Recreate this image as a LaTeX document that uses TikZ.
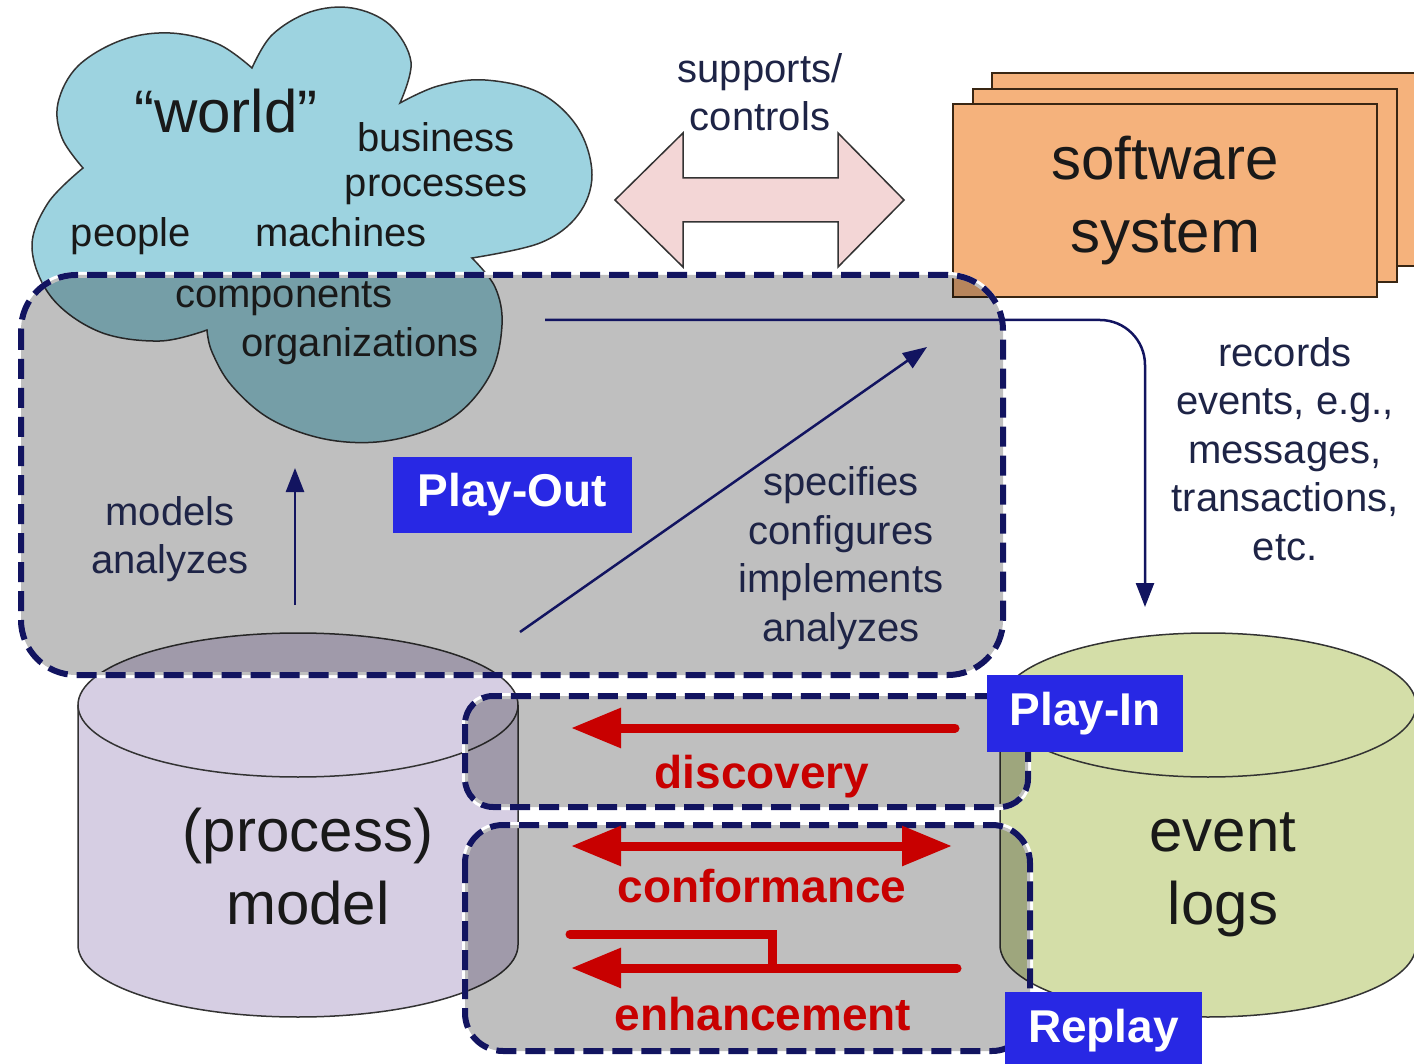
\documentclass[tikz,border=0pt]{standalone}
\usepackage{fontspec}
\setmainfont{Liberation Sans}
\usetikzlibrary{arrows.meta}
\definecolor{cloudblue}{RGB}{157,211,224}
\definecolor{modellilac}{RGB}{214,206,227}
\definecolor{loggreen}{RGB}{212,222,168}
\definecolor{softorange}{RGB}{245,178,124}
\definecolor{arrowpink}{RGB}{243,214,214}
\definecolor{boxnavy}{RGB}{18,20,96}
\definecolor{tagblue}{RGB}{40,40,228}
\definecolor{minered}{RGB}{200,0,0}
\definecolor{labelnavy}{RGB}{30,36,70}

\begin{document}
\begin{tikzpicture}[x=1pt,y=-1pt,
  outline/.style={draw=black!80, line width=1.5pt},
  playbox/.style={draw=boxnavy, line width=6pt, dash pattern=on 20pt off 9pt,
    fill=black, fill opacity=0.25, preaction={draw=white, solid, line width=6pt}},
  tag/.style={fill=tagblue, text=white, font=\fontsize{46}{50}\selectfont\bfseries, inner sep=0pt},
  cloudtext/.style={text=black!90, font=\fontsize{40}{48}\selectfont, anchor=base},
  note/.style={text=labelnavy, font=\fontsize{40}{48.5}\selectfont, align=center},
  big/.style={text=black!90, font=\fontsize{60}{73}\selectfont, align=center},
  minetext/.style={text=minered, font=\fontsize{46}{50}\selectfont\bfseries, anchor=base},
  link/.style={draw=boxnavy, line width=2.5pt, -{Triangle[length=24pt,width=18pt]}},
  redarrow/.style={draw=minered, line width=9pt, line cap=round},
  redtip/.style={-{Triangle[length=50pt,width=38pt]}}]

\path[use as bounding box, clip] (0,0) rectangle (1414,1064);
\fill[white] (0,0) rectangle (1414,1064);

% the world cloud
\path[outline, fill=cloudblue]
  plot[smooth, tension=0.6] coordinates {(207,330) (160,341) (100,332) (52,298) (32,248) (48,203) (83,168)}
  -- plot[smooth, tension=0.6] coordinates {(83,168) (62,138) (58,103) (78,66) (122,40) (170,33) (218,44) (252,68)}
  -- plot[smooth, tension=0.6] coordinates {(252,68) (272,35) (310,12) (352,8) (390,25) (411,62) (400,103)}
  -- plot[smooth, tension=0.6] coordinates {(400,103) (438,86) (485,80) (540,93) (578,128) (592,175) (578,215) (540,243) (472,258)}
  -- plot[smooth, tension=0.6] coordinates {(472,258) (495,287) (502,325) (490,375) (452,418) (392,440) (330,440) (272,420) (232,386) (212,352) (207,330)}
  -- cycle;

% cylinders
\path[outline, fill=modellilac] (78,705) -- (78,945)
  arc[start angle=180, end angle=0, x radius=220, y radius=72] -- (518,705);
\path[outline, fill=modellilac] (298,705) ellipse[x radius=220, y radius=72];
\path[outline, fill=loggreen] (1000,705) -- (1000,945)
  arc[start angle=180, end angle=0, x radius=208, y radius=72] -- (1416,705);
\path[outline, fill=loggreen] (1208,705) ellipse[x radius=208, y radius=72];

% software system
\foreach \dx/\dy in {39/-31, 20/-15}
  \path[draw=black!70!brown, line width=2pt, fill=softorange] (953+\dx,104+\dy) rectangle ++(424,193);
\node[draw=black!70!brown, line width=2pt, fill=softorange, minimum width=424, minimum height=193,
  big] (software) at (1165,200.5) {software\\system};

% supports/controls
\path[outline, fill=arrowpink] (615,200) -- (683,133) -- (683,178) -- (838,178) -- (838,133)
  -- (904,200) -- (838,267) -- (838,222) -- (683,222) -- (683,267) -- cycle;
\node[note] (supports) at (760,92) {supports/\\controls};

% play boxes
\path[playbox, rounded corners=55pt] (21,275) rectangle (1003,675);
\path[playbox, rounded corners=28pt] (465,696) rectangle (1028,807);
\path[playbox, rounded corners=38pt] (465,825) rectangle (1030,1051);

% texts
\node[cloudtext, font=\fontsize{60}{70}\selectfont] (world) at (226,133) {“world”};
\node[cloudtext] (business) at (436,152) {business};
\node[cloudtext] (processes) at (436,197) {processes};
\node[cloudtext] (people) at (131,247) {people};
\node[cloudtext] (machines) at (341,247) {machines};
\node[cloudtext] (components) at (284,308) {components};
\node[cloudtext] (organizations) at (360,357) {organizations};

\node[big] (model) at (308,867) {(process)\\model};
\node[big] (logs) at (1223,875) {event\\logs};

\node[note] (models) at (170,539) {models\\analyzes};
\node[note] (specifies) at (841,558) {specifies\\configures\\implements\\analyzes};
\node[note] (records) at (1285,449) {records\\events, e.g.,\\messages,\\transactions,\\etc.};

% navy connectors
\coordinate (model-top) at (295,605);
\coordinate (world-low) at (295,468);
\coordinate (spec-start) at (520,632);
\coordinate (spec-end) at (927,347);
\coordinate (rec-start) at (545,320);
\coordinate (rec-end) at (1145,607);
\draw[link] (model-top) -- (world-low);
\draw[link] (spec-start) -- (spec-end);
\draw[link, rounded corners=45pt] (rec-start) -| (rec-end);

% red mining arrows
\coordinate (disc-r) at (955,728);
\coordinate (disc-l) at (571,728);
\coordinate (conf-l) at (571,846);
\coordinate (conf-r) at (952,846);
\coordinate (enh-a) at (570,934);
\coordinate (enh-b) at (772,968);
\coordinate (enh-r) at (957,968);
\coordinate (enh-l) at (571,968);
\draw[redarrow, redtip] (disc-r) -- (disc-l);
\draw[redarrow, {Triangle[length=50pt,width=38pt]}-{Triangle[length=50pt,width=38pt]}] (conf-l) -- (conf-r);
\draw[redarrow] (enh-a) -| (enh-b);
\draw[redarrow, redtip] (enh-r) -- (enh-l);
\node[minetext] (discovery) at (762,788) {discovery};
\node[minetext] (conformance) at (762,902) {conformance};
\node[minetext] (enhancement) at (763,1030) {enhancement};

% tags
\node[tag, minimum width=239, minimum height=76] (playout) at (512.5,495) {Play-Out};
\node[tag, minimum width=196, minimum height=77] (playin) at (1085,713.5) {Play-In};
\node[tag, minimum width=197, minimum height=78] (replay) at (1103.5,1031) {Replay};
\end{tikzpicture}
\end{document}
